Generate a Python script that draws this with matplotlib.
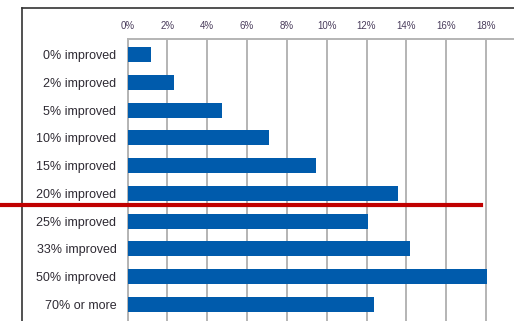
import matplotlib
matplotlib.use("Agg")
import matplotlib.pyplot as plt
from matplotlib.lines import Line2D

plt.rcParams["font.family"] = ["Liberation Sans", "DejaVu Sans"]

# improvement buckets and share of respondents (%)
categories = ["0% improved", "2% improved", "5% improved", "10% improved", "15% improved",
              "20% improved", "25% improved", "33% improved", "50% improved", "70% or more"]
shares = [1.2, 2.35, 4.75, 7.1, 9.45, 13.6, 12.1, 14.2, 18.05, 12.4]
xticks = [0, 2, 4, 6, 8, 10, 12, 14, 16, 18]

W, H = 514, 321
fig = plt.figure(figsize=(W / 100, H / 100), dpi=100)
fig.patch.set_facecolor("white")

left_px, top_px = 127.5, 39
ax = fig.add_axes([left_px / W, 0, 1 - left_px / W, 1 - top_px / H])

ypos = list(range(len(categories)))
ax.barh(ypos, shares, height=0.54, color="#005BAC", zorder=3)

px_per_unit = (486 - 127.5) / 18
ax.set_xlim(0, (W - left_px) / px_per_unit)
row_px = 27.8
ax.set_ylim(9 + (H - 304.5) / row_px, -(54.5 - top_px) / row_px)

ax.set_xticks(xticks)
ax.set_xticklabels([f"{t}%" for t in xticks], fontsize=7, color="#4a3d5c")
ax.xaxis.tick_top()
ax.tick_params(axis="x", length=0, pad=6)
ax.set_yticks(ypos)
ax.set_yticklabels(categories, fontsize=9, color="#2e2a33")
ax.tick_params(axis="y", length=0, pad=8)

ax.grid(axis="x", color="#b4b4b4", linewidth=1.4, zorder=0)
for side in ["right", "bottom"]:
    ax.spines[side].set_visible(False)
ax.spines["top"].set_color("#b4b4b4")
ax.spines["top"].set_linewidth(1.4)
ax.spines["left"].set_color("#b4b4b4")
ax.spines["left"].set_linewidth(1.4)

# outer frame (top and left edges)
fig.add_artist(Line2D([22 / W, 1], [1 - 8 / H, 1 - 8 / H], color="#333333", linewidth=1.2))
fig.add_artist(Line2D([22 / W, 22 / W], [0, 1 - 8 / H], color="#333333", linewidth=1.2))

# red divider under the 20% bucket
fig.add_artist(Line2D([0, 481 / W], [1 - 204.5 / H, 1 - 204.5 / H], color="#c00000", linewidth=3, zorder=10))

fig.savefig("out.png", dpi=100)
